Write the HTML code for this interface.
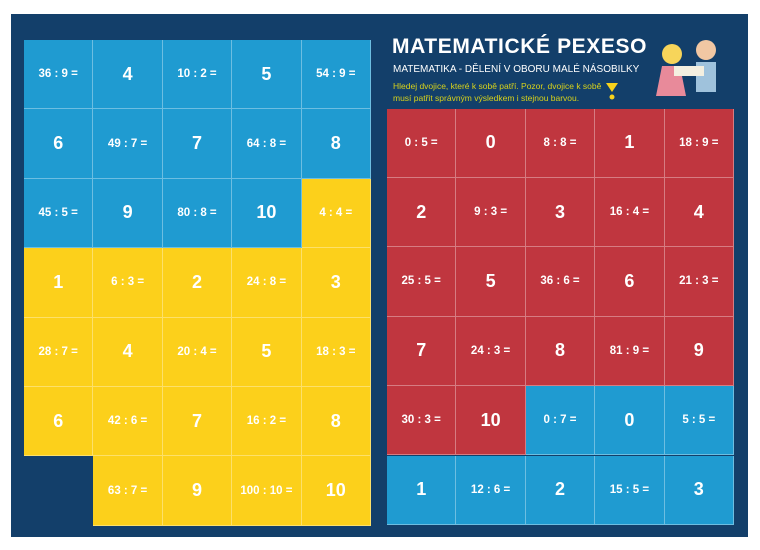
<!DOCTYPE html>
<html><head><meta charset="utf-8"><style>
body{margin:0;width:760px;height:550px;background:#fff;position:relative;overflow:hidden;font-family:"Liberation Sans",sans-serif}
#panel{position:absolute;left:11px;top:14px;width:737px;height:523px;background:#133f6a}
.c{position:absolute;width:69.4px;height:69.4px;box-sizing:border-box;border-right:1px solid rgba(255,255,255,.35);border-bottom:1px solid rgba(255,255,255,.35);color:#fff;font-weight:bold;display:flex;align-items:center;justify-content:center}
.e{font-size:11.5px}.n{font-size:18px}
.b{background:#1f9bd1}.y{background:#fcd01b}.r{background:#c0363f}
h1{position:absolute;left:392px;top:35px;margin:0;font-size:21px;color:#fff;font-weight:bold;letter-spacing:.6px}
.sub{position:absolute;left:393px;top:64px;font-size:10px;color:#fff}
.hint{position:absolute;left:393px;top:80px;font-size:8.5px;color:#d8d21a;line-height:12px}
</style></head><body>
<div id="panel"></div>
<h1>MATEMATICKÉ PEXESO</h1>
<div class="sub">MATEMATIKA - DĚLENÍ V OBORU MALÉ NÁSOBILKY</div>
<div class="hint">Hledej dvojice, které k sobě patří. Pozor, dvojice k sobě<br>musí patřit správným výsledkem i stejnou barvou.</div>
<svg style="position:absolute;left:606px;top:83px" width="12" height="18"><path d="M0 0 L12 0 L6 9Z" fill="#f7d21c"/><circle cx="6" cy="14" r="2.5" fill="#f7d21c"/></svg>
<svg style="position:absolute;left:650px;top:36px" width="80" height="70"><circle cx="22" cy="18" r="10" fill="#f7d55a"/><path d="M12 30 L6 60 L36 60 L30 30Z" fill="#e88a9a"/><circle cx="56" cy="14" r="10" fill="#f1c7a3"/><rect x="46" y="26" width="20" height="30" fill="#9fc2dc"/><rect x="24" y="30" width="30" height="10" fill="#f4efe0"/></svg>
<div id="g"></div>
<script>
const L=[["b","36 : 9 =","b","4","b","10 : 2 =","b","5","b","54 : 9 ="],
["b","6","b","49 : 7 =","b","7","b","64 : 8 =","b","8"],
["b","45 : 5 =","b","9","b","80 : 8 =","b","10","y","4 : 4 ="],
["y","1","y","6 : 3 =","y","2","y","24 : 8 =","y","3"],
["y","28 : 7 =","y","4","y","20 : 4 =","y","5","y","18 : 3 ="],
["y","6","y","42 : 6 =","y","7","y","16 : 2 =","y","8"],
[null,"","y","63 : 7 =","y","9","y","100 : 10 =","y","10"]];
const R=[["r","0 : 5 =","r","0","r","8 : 8 =","r","1","r","18 : 9 ="],
["r","2","r","9 : 3 =","r","3","r","16 : 4 =","r","4"],
["r","25 : 5 =","r","5","r","36 : 6 =","r","6","r","21 : 3 ="],
["r","7","r","24 : 3 =","r","8","r","81 : 9 =","r","9"],
["r","30 : 3 =","r","10","b","0 : 7 =","b","0","b","5 : 5 ="],
["b","1","b","12 : 6 =","b","2","b","15 : 5 =","b","3"]];
let h="";
function draw(G,x0,y0){G.forEach((row,i)=>{for(let j=0;j<5;j++){const c=row[2*j],t=row[2*j+1];if(!c)continue;
h+=`<div class="c ${c} ${t.includes("=")?"e":"n"}" style="left:${x0+j*69.4}px;top:${y0+i*69.4}px">${t}</div>`}})}
draw(L,24,40);draw(R,387,108.5);
document.getElementById("g").innerHTML=h;
</script>
</body></html>
